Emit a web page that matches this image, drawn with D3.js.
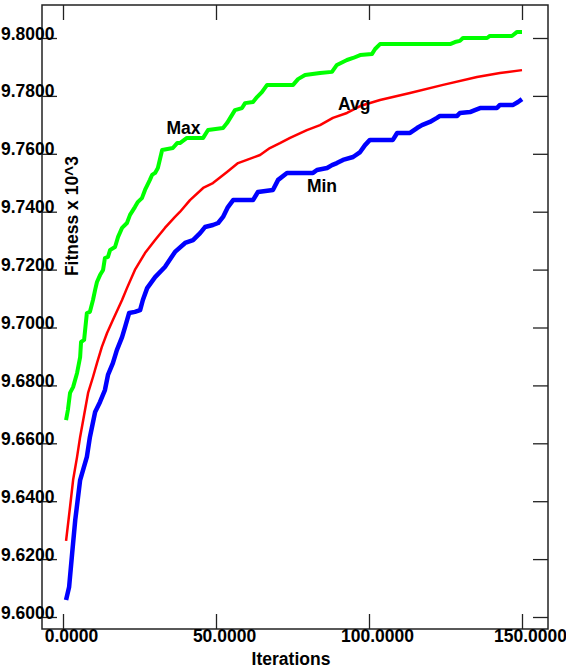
<!DOCTYPE html>
<html>
<head>
<meta charset="utf-8">
<script src="https://cdn.jsdelivr.net/npm/d3@7"></script>
<style>
  html, body { margin: 0; padding: 0; background: #fff; }
  svg { display: block; }
  text { font-family: "Liberation Sans", Arial, sans-serif; font-weight: bold; }
</style>
</head>
<body>
<svg id="chart" width="566" height="668"></svg>
<script>
// ---- Data (iteration, fitness x 10^3) ----
const xTicks = [0, 50, 100, 150];
const yTicks = [9.60, 9.62, 9.64, 9.66, 9.68, 9.70, 9.72, 9.74, 9.76, 9.78, 9.80];
const seriesNames = ["Max", "Avg", "Min"];

const maxSeries = [
  [1,9.6680],[1.6,9.6715],[2.3,9.6774],[3.3,9.6794],[4.6,9.6843],[5.6,9.6898],[5.9,9.6950],
  [6.9,9.6957],[7.8,9.7050],[8.8,9.7054],[9.8,9.7095],[10.5,9.7130],[11.1,9.7157],[12.1,9.7181],
  [13.1,9.7199],[13.7,9.7240],[14.7,9.7244],[15.4,9.7268],[17.0,9.7278],[18.0,9.7313],
  [19.3,9.7344],[20.9,9.7361],[21.9,9.7389],[23.5,9.7416],[24.5,9.7434],[25.8,9.7447],
  [26.8,9.7475],[28.4,9.7510],[29.1,9.7527],[30.1,9.7534],[31.0,9.7551],[32.4,9.7613],
  [35.9,9.7620],[37.3,9.7637],[38.2,9.7637],[40.5,9.7655],[45.8,9.7655],[47.4,9.7682],
  [52.3,9.7689],[53.6,9.7706],[56.2,9.7751],[58.5,9.7758],[59.5,9.7775],[62.1,9.7779],
  [63.4,9.7796],[65.0,9.7813],[66.7,9.7838],[75.2,9.7838],[76.8,9.7858],[79.1,9.7872],
  [84.0,9.7879],[87.9,9.7883],[89.5,9.7907],[92.8,9.7924],[94.8,9.7931],[97.1,9.7941],
  [101.0,9.7945],[102.0,9.7962],[103.6,9.7979],[126.5,9.7979],[128.1,9.7986],[129.7,9.7990],
  [130.7,9.8000],[138.6,9.8000],[139.5,9.8007],[146.7,9.8007],[148.4,9.8021],[150,9.8021]
];

const avgSeries = [
  [1,9.6263],[2.3,9.6380],[3.3,9.6473],[4.6,9.6553],[5.6,9.6622],[6.9,9.6698],[8.2,9.6774],
  [9.8,9.6829],[11.1,9.6877],[12.7,9.6933],[14.4,9.6981],[16.3,9.7026],[19.3,9.7095],
  [20.9,9.7136],[23.5,9.7199],[26.8,9.7257],[30.1,9.7302],[33.3,9.7344],[36.6,9.7382],
  [38.2,9.7399],[41.5,9.7440],[45.8,9.7482],[49.0,9.7499],[53.6,9.7537],[57.2,9.7568],
  [60.1,9.7579],[64.4,9.7596],[67.6,9.7620],[70.9,9.7637],[74.2,9.7655],[79.7,9.7682],
  [84.0,9.7699],[88.2,9.7724],[92.8,9.7741],[97.1,9.7765],[103.6,9.7786],[113.4,9.7810],
  [124.2,9.7838],[135.3,9.7865],[142.8,9.7879],[150,9.7889]
];

const minSeries = [
  [1,9.6059],[2,9.6104],[3,9.6221],[4,9.6335],[5.6,9.6473],[7.8,9.6553],[8.8,9.6622],
  [10.5,9.6708],[12.1,9.6743],[13.7,9.6784],[14.7,9.6836],[16.3,9.6877],[17.6,9.6922],
  [19.3,9.6967],[20.3,9.7002],[21.6,9.7050],[23.5,9.7054],[25.2,9.7060],[26.1,9.7095],
  [27.5,9.7136],[30.1,9.7174],[33.3,9.7209],[36.6,9.7261],[39.9,9.7292],[42.5,9.7302],
  [44.8,9.7326],[46.4,9.7347],[49.0,9.7354],[50.7,9.7361],[52.3,9.7382],[53.9,9.7416],
  [55.6,9.7440],[62.1,9.7440],[63.7,9.7468],[68.6,9.7475],[70.3,9.7510],[73.2,9.7534],
  [81.7,9.7534],[83.0,9.7544],[86.3,9.7551],[87.9,9.7561],[89.5,9.7568],[91.5,9.7579],
  [94.8,9.7589],[97.1,9.7606],[98.7,9.7630],[100.3,9.7648],[107.8,9.7648],[109.2,9.7672],
  [113.4,9.7672],[115.7,9.7689],[117.3,9.7699],[119.9,9.7710],[122.2,9.7724],[123.2,9.7731],
  [128.8,9.7731],[129.7,9.7741],[133.0,9.7744],[134.6,9.7751],[136.3,9.7758],[141.8,9.7758],
  [142.8,9.7769],[147.1,9.7769],[148.7,9.7779],[150,9.7789]
];

// ---- Layout ----
const frame = { left: 42, top: 5, right: 548, bottom: 629 };
const svg = d3.select("#chart");

const x = d3.scaleLinear().domain([0, 150]).range([63, 522]);
const y = d3.scaleLinear().domain([9.6, 9.8]).range([617, 38]);
const fmt = d3.format(".4f");
const FS = 17.5;
const tickLen = 15;

// frame
svg.append("rect")
  .attr("x", frame.left).attr("y", frame.top)
  .attr("width", frame.right - frame.left).attr("height", frame.bottom - frame.top)
  .attr("fill", "none").attr("stroke", "#222").attr("stroke-width", 1.5);

function styleAxis(g) {
  g.attr("font-family", null).attr("font-size", null);
  g.select(".domain").remove();
  g.selectAll(".tick line").attr("stroke", "#222").attr("stroke-width", 1.3);
  g.selectAll(".tick text").attr("fill", "#000")
    .style("font-size", FS + "px").style("font-weight", "bold")
    .style("font-family", '"Liberation Sans", Arial, sans-serif');
}

// left axis
svg.append("g").attr("transform", `translate(${frame.left},0)`)
  .call(d3.axisLeft(y).tickValues(yTicks).tickFormat(fmt)
    .tickSizeInner(-tickLen).tickSizeOuter(0).tickPadding(-12.5))
  .call(styleAxis)
  .call(g => g.selectAll(".tick text").attr("dy", "0.06em"));

// right axis (ticks only)
svg.append("g").attr("transform", `translate(${frame.right},0)`)
  .call(d3.axisRight(y).tickValues(yTicks).tickFormat("")
    .tickSizeInner(-tickLen).tickSizeOuter(0))
  .call(styleAxis);

// bottom axis
svg.append("g").attr("transform", `translate(0,${frame.bottom})`)
  .call(d3.axisBottom(x).tickValues(xTicks).tickFormat(fmt)
    .tickSizeInner(-tickLen).tickSizeOuter(0).tickPadding(0))
  .call(styleAxis)
  .call(g => g.selectAll(".tick text").attr("dx", 8).attr("dy", "0.72em"));

// top axis (ticks only)
svg.append("g").attr("transform", `translate(0,${frame.top})`)
  .call(d3.axisTop(x).tickValues(xTicks).tickFormat("")
    .tickSizeInner(-tickLen).tickSizeOuter(0))
  .call(styleAxis);

// axis titles
svg.append("text").attr("x", 291).attr("y", 665)
  .attr("text-anchor", "middle").style("font-size", FS + "px").text("Iterations");
svg.append("text")
  .attr("transform", "translate(78,216) rotate(-90)")
  .attr("text-anchor", "middle").style("font-size", FS + "px").text("Fitness x 10^3");

// series lines
const line = d3.line().x(d => x(d[0])).y(d => y(d[1]));
const series = [
  { name: seriesNames[0], data: maxSeries, color: "#00ff00", width: 4 },
  { name: seriesNames[1], data: avgSeries, color: "#ff0000", width: 2.5 },
  { name: seriesNames[2], data: minSeries, color: "#0000ff", width: 4.5 }
];
svg.append("g").selectAll("path").data(series).join("path")
  .attr("d", s => line(s.data))
  .attr("fill", "none")
  .attr("stroke", s => s.color)
  .attr("stroke-width", s => s.width)
  .attr("stroke-linejoin", "round")
  .attr("stroke-linecap", "butt");

// series labels (placed near their curves)
const labelPos = [
  { name: seriesNames[0], it: 33.8, v: 9.7668 },
  { name: seriesNames[1], it: 89.9, v: 9.7751 },
  { name: seriesNames[2], it: 79.7, v: 9.7468 }
];
svg.append("g").selectAll("text").data(labelPos).join("text")
  .attr("x", d => x(d.it)).attr("y", d => y(d.v))
  .style("font-size", FS + "px").attr("fill", "#000")
  .text(d => d.name);
</script>
</body>
</html>
